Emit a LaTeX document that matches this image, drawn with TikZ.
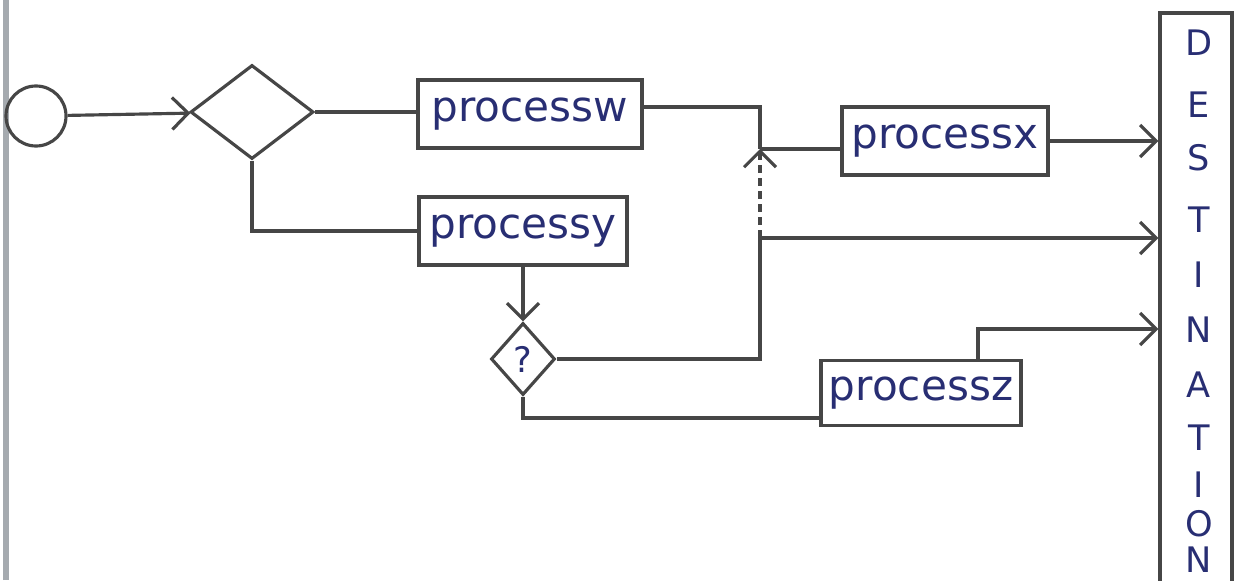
\documentclass[tikz,border=0pt]{standalone}
\usepackage{fontspec}
\setmainfont{DejaVu Sans}
\usetikzlibrary{shapes.geometric, positioning, arrows.meta}
\definecolor{PenBlue}{RGB}{40, 46, 115}
\definecolor{PencilGray}{RGB}{70, 70, 70}
\definecolor{PageGray}{RGB}{165, 170, 175}

\begin{document}
\begin{tikzpicture}[
            proc/.style={draw=PencilGray, line width=0.9pt, minimum height=0.68cm,
                         inner sep=0pt, text=PenBlue, font=\fontsize{12}{14}\selectfont},
            decide/.style={diamond, draw=PencilGray, line width=0.9pt, inner sep=0pt},
            letter/.style={text=PenBlue, font=\fontsize{10}{11}\selectfont, inner sep=0pt},
            flow/.style={PencilGray, line width=0.9pt},
            hand/.style={flow, -{Straight Barb[length=1.6mm, width=3.2mm]}}
        ]
            \useasboundingbox (0,0) rectangle (12.41,5.80);
            \draw[PageGray, line width=1.5pt] (0.06,0) -- (0.06,5.80);

            \node[circle, draw=PencilGray, line width=0.9pt, minimum size=0.6cm,
                  inner sep=0pt] (start) at (0.36, 4.64) {};
            \node[decide, minimum width=1.23cm, minimum height=0.94cm] (d1) at (2.52, 4.68) {};
            \node[proc, minimum width=2.24cm] (pw) at (5.30, 4.66) {processw};
            \node[proc, minimum width=2.08cm] (py) at (5.23, 3.49) {processy};
            \node[proc, minimum width=2.06cm] (px) at (9.45, 4.39) {processx};
            \node[proc, minimum width=2.00cm, minimum height=0.65cm] (pz) at (9.21, 1.87) {processz};
            \node[decide, minimum width=0.64cm, minimum height=0.72cm, text=PenBlue,
                  font=\fontsize{10}{11}\selectfont] (q) at (5.23, 2.21) {?};
            \node[draw=PencilGray, line width=0.9pt, minimum width=0.72cm,
                  minimum height=5.9cm, inner sep=0pt] (dest) at (11.96, 2.72) {};

            \foreach \ch/\yy [count=\i] in {D/0.43, E/1.05, S/1.58, T/2.20, I/2.75, N/3.30,
                                             A/3.85, T/4.38, I/4.85, O/5.24, N/5.60}
                \node[letter] (ch\i) at (11.99, 5.80-\yy) {\ch};

            \coordinate (jx) at (7.60, 4.31);
            \coordinate (jd) at (7.60, 3.42);
            \coordinate (jz) at (9.78, 2.51);

            \draw[hand] (start) -- (d1);
            \draw[flow] (d1.east) -- (d1.east -| pw.west);
            \draw[flow] (d1.south) |- (py.west);
            \draw[hand] (py) -- (q);
            \draw[flow] ([yshift=0.07cm]pw.east) -| (jx);
            \draw[flow] (jx) -- (jx -| px.west);
            \draw[hand, dash pattern=on 0.08cm off 0.05cm] (jd) -- (jx);
            \draw[flow] (q.east) -| (jd);
            \draw[hand] (jd) -- (jd -| dest.west);
            \draw[hand] (px.east) -- (px.east -| dest.west);
            \draw[flow] (q.south) |- ([yshift=-0.25cm]pz.west);
            \draw[hand] (pz.north -| jz) -- (jz) -- (jz -| dest.west);
\end{tikzpicture}
\end{document}
